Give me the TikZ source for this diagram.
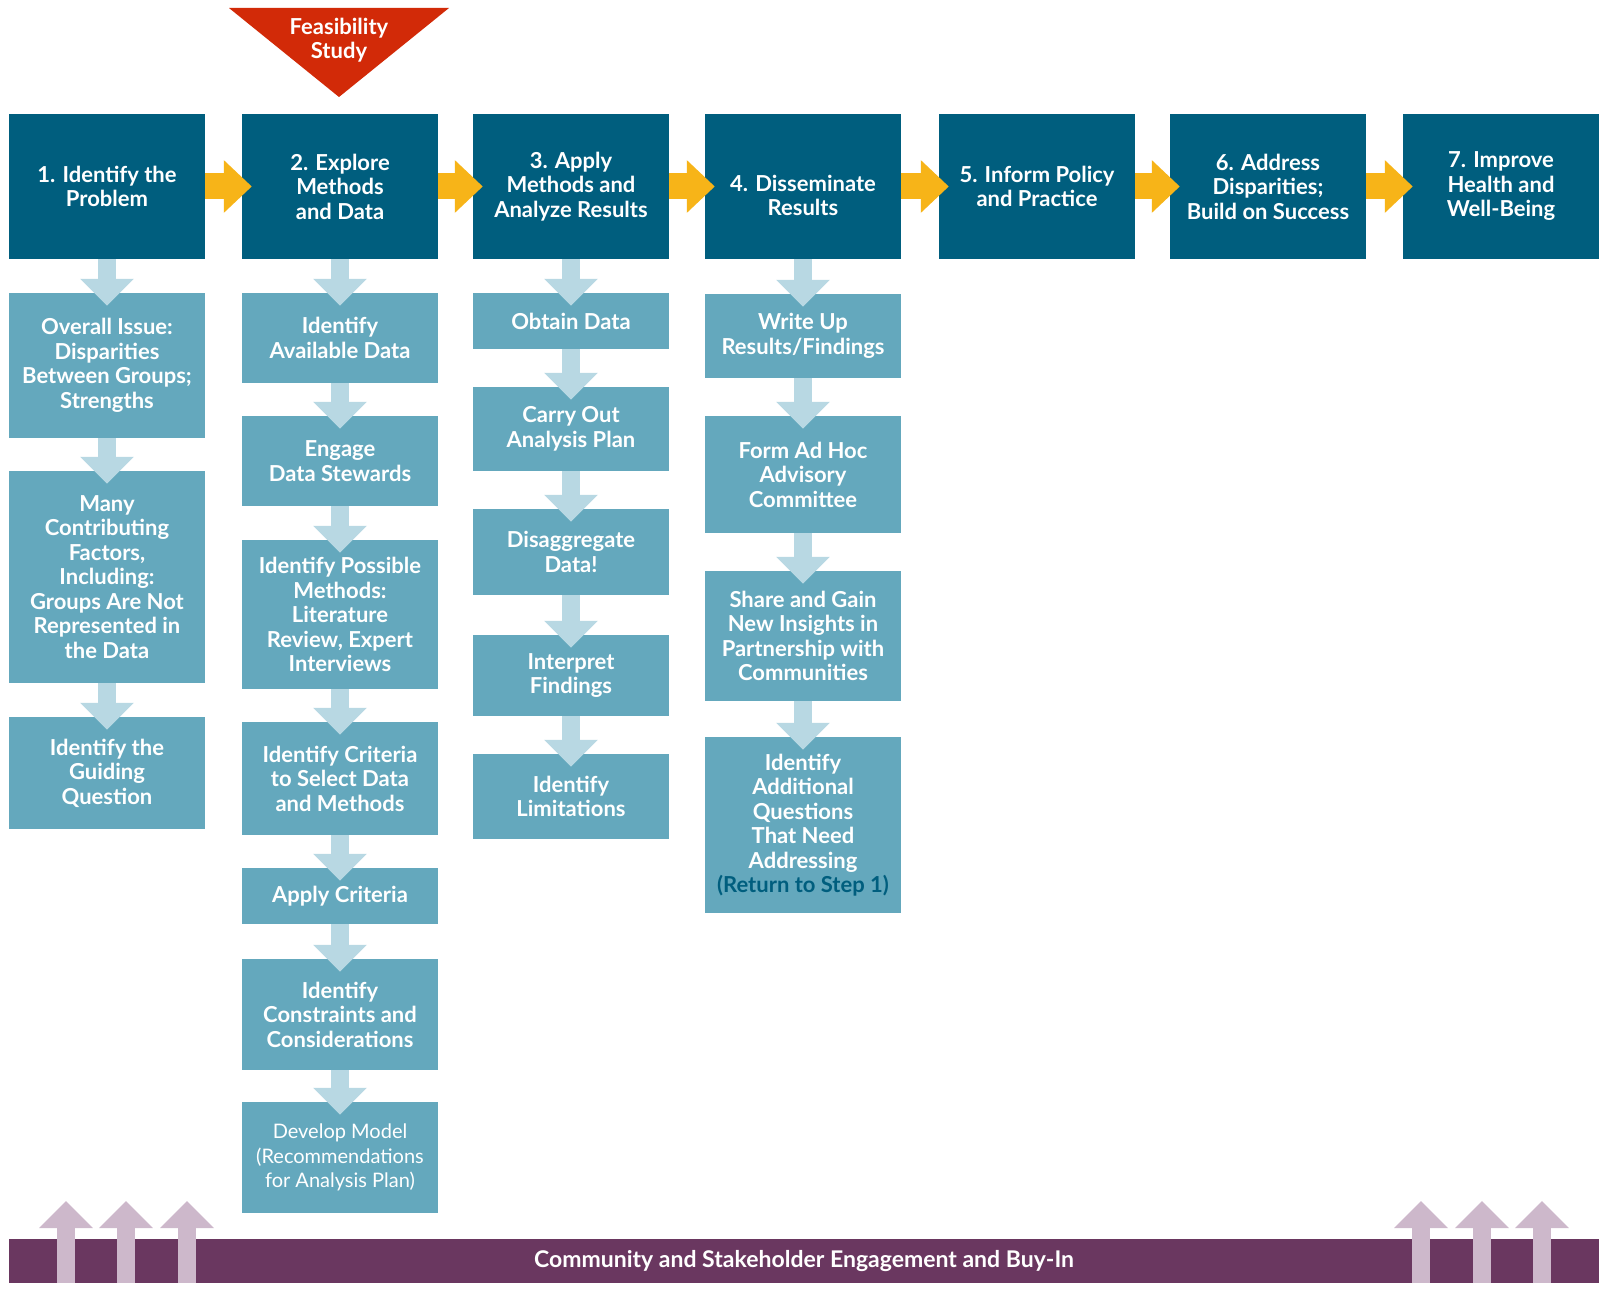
\documentclass[tikz,border=0pt]{standalone}
\usepackage{fontspec}
\setmainfont{Lato}
\usetikzlibrary{arrows.meta}
\definecolor{darkteal}{HTML}{005E7E}
\definecolor{midteal}{HTML}{64A8BD}
\definecolor{lightteal}{HTML}{B8D8E3}
\definecolor{yelarrow}{HTML}{F7B418}
\definecolor{feasred}{HTML}{D22A08}
\definecolor{barpurple}{HTML}{6A3760}
\definecolor{lightpurple}{HTML}{CDB8CB}
\begin{document}
\begin{tikzpicture}[x=1pt,y=-1pt,
  mainbox/.style={fill=darkteal, text=white, font=\bfseries\fontsize{22}{24.5}\selectfont, align=center, minimum width=196pt, minimum height=145pt, inner sep=0pt},
  maintext/.style={text=white, font=\bfseries\fontsize{22}{24.5}\selectfont, align=center, inner sep=0pt},
  subbox/.style={fill=midteal, text=white, font=\bfseries\fontsize{22}{24.5}\selectfont, align=center, minimum width=196pt, inner sep=0pt},
  darr/.style={draw=lightteal, line width=18pt, -{Triangle[length=27pt,width=52pt]}},
  harr/.style={draw=yelarrow, line width=26pt, -{Triangle[length=28pt,width=51pt]}},
  uarr/.style={draw=lightpurple, line width=18pt, -{Triangle[length=27pt,width=52pt]}},
]
\useasboundingbox (0,0) rectangle (1600,1313);
\fill[white] (0,0) rectangle (1600,1313);

% feasibility triangle
\fill[feasred] (229,8) -- (449,8) -- (339,97) -- cycle;
\node[maintext] (feas) at (339,40) {Feasibility\\Study};

% main steps
\node[mainbox] (m1) at (107,186.5) {1. Identify the\\Problem};
\node[mainbox] (m2) at (340,186.5) {2. Explore\\Methods\\and Data};
\node[mainbox] (m3) at (571,186.5) {3. Apply\\Methods and\\Analyze Results};
\node[mainbox, label={[maintext, yshift=-9pt]center:{4. Disseminate\\Results}}] (m4) at (803,186.5) {};
\node[mainbox] (m5) at (1037,186.5) {5. Inform Policy\\and Practice};
\node[mainbox] (m6) at (1268,186.5) {6. Address\\Disparities;\\Build on Success};
\node[mainbox] (m7) at (1501,186.5) {7. Improve\\Health and\\Well-Being};

% column 1
\node[subbox, minimum height=145pt] (a1) at (107,365.5) {Overall Issue:\\Disparities\\Between Groups;\\Strengths};
\node[subbox, minimum height=212pt] (a2) at (107,577) {Many\\Contributing\\Factors,\\Including:\\Groups Are Not\\Represented in\\the Data};
\node[subbox, minimum height=112pt] (a3) at (107,773) {Identify the\\Guiding\\Question};

% column 2
\node[subbox, minimum height=90pt] (b1) at (340,338) {Identify\\Available Data};
\node[subbox, minimum height=90pt] (b2) at (340,461) {Engage\\Data Stewards};
\node[subbox, minimum height=149pt] (b3) at (340,614.5) {Identify Possible\\Methods:\\Literature\\Review, Expert\\Interviews};
\node[subbox, minimum height=113pt] (b4) at (340,778.5) {Identify Criteria\\to Select Data\\and Methods};
\node[subbox, minimum height=56pt] (b5) at (340,896) {Apply Criteria};
\node[subbox, minimum height=111pt] (b6) at (340,1014.5) {Identify\\Constraints and\\Considerations};
\node[subbox, minimum height=111pt, font=\fontsize{20}{24.5}\selectfont] (b7) at (340,1157.5) {Develop Model\\(Recommendations\\for Analysis Plan)};

% column 3
\node[subbox, minimum height=56pt] (c1) at (571,321) {Obtain Data};
\node[subbox, minimum height=84pt] (c2) at (571,429) {Carry Out\\Analysis Plan};
\node[subbox, minimum height=86pt] (c3) at (571,552) {Disaggregate\\Data!};
\node[subbox, minimum height=81pt] (c4) at (571,675.5) {Interpret\\Findings};
\node[subbox, minimum height=85pt] (c5) at (571,796.5) {Identify\\Limitations};

% column 4
\node[subbox, minimum height=84pt] (d1) at (803,336) {Write Up\\Results/Findings};
\node[subbox, minimum height=117pt] (d2) at (803,474.5) {Form Ad Hoc\\Advisory\\Committee};
\node[subbox, minimum height=130pt] (d3) at (803,636) {Share and Gain\\New Insights in\\Partnership with\\Communities};
\node[subbox, minimum height=176pt] (d4) at (803,825) {Identify\\Additional\\Questions\\That Need\\Addressing\\\textcolor{darkteal}{(Return to Step 1)}};

% horizontal arrows
\foreach \a/\b in {m1/m2,m2/m3,m3/m4,m4/m5,m5/m6,m6/m7}
  \draw[harr] (\a.east) -- ([xshift=10pt]\b.west);

% vertical arrows
\foreach \a/\b in {m1/a1,a1/a2,a2/a3,
                   m2/b1,b1/b2,b2/b3,b3/b4,b4/b5,b5/b6,b6/b7,
                   m3/c1,c1/c2,c2/c3,c3/c4,c4/c5,
                   m4/d1,d1/d2,d2/d3,d3/d4}
  \draw[darr] (\a.south) -- ([yshift=-13pt]\b.north);

% bottom bar
\node[fill=barpurple, text=white, font=\bfseries\fontsize{23}{24}\selectfont, minimum width=1590pt, minimum height=44pt, inner sep=0pt] (bar) at (804,1261) {Community and Stakeholder Engagement and Buy-In};

\foreach \i/\x in {1/66,2/126,3/187,4/1421,5/1482,6/1542}{
  \coordinate (ub\i) at (\x,1283);
  \coordinate (ut\i) at (\x,1201);
  \draw[uarr] (ub\i) -- (ut\i);
}
\end{tikzpicture}
\end{document}
